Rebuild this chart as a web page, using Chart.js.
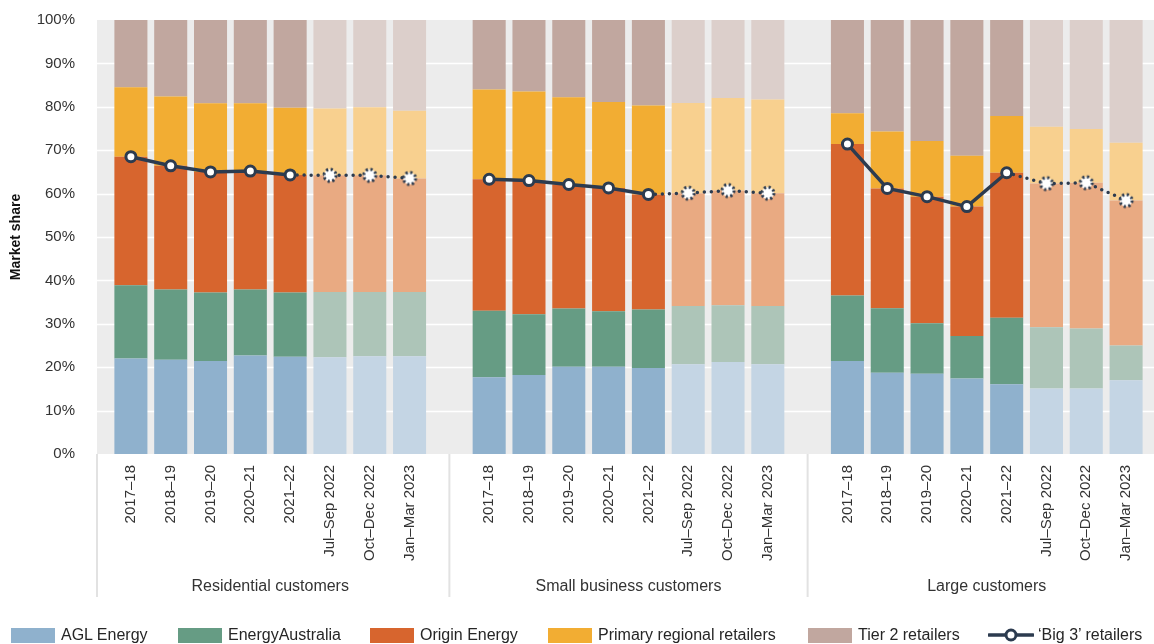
<!DOCTYPE html>
<html>
<head>
<meta charset="utf-8">
<script src="https://cdn.jsdelivr.net/npm/chart.js@4.4.0/dist/chart.umd.min.js"></script>
<style>
  html, body { margin: 0; padding: 0; background: #fff; }
  #wrap { position: relative; width: 1154px; height: 644px; overflow: hidden; font-family: "Liberation Sans", Arial, sans-serif; }
  #legend .item { position: absolute; top: 626px; height: 18px; display: flex; align-items: center; font-size: 16px; color: #262626; white-space: nowrap; }
  #legend .box { width: 44px; height: 15px; margin-right: 6px; }
</style>
</head>
<body>
<div id="wrap">
  <canvas id="chart" width="1154" height="644"></canvas>
  <div id="legend"></div>
</div>
<script>
// categories
const groupNames = ['Residential customers', 'Small business customers', 'Large customers'];
const periods = ['2017–18', '2018–19', '2019–20', '2020–21', '2021–22', 'Jul–Sep 2022', 'Oct–Dec 2022', 'Jan–Mar 2023'];

// market share (%), 8 periods per group: residential, small business, large
const agl       = [22.0, 21.7, 21.4, 22.7, 22.4, 22.3, 22.5, 22.5,  17.7, 18.2, 20.1, 20.1, 19.8, 20.7, 21.2, 20.7,  21.4, 18.7, 18.5, 17.4, 16.1, 15.1, 15.1, 17.0];
const energyAus = [16.9, 16.2, 15.8, 15.2, 14.8, 15.0, 14.8, 14.8,  15.3, 14.0, 13.4, 12.8, 13.5, 13.4, 13.1, 13.4,  15.1, 14.9, 11.6,  9.8, 15.3, 14.1, 13.8,  8.0];
const origin    = [29.6, 28.5, 27.8, 27.3, 27.1, 26.9, 26.9, 26.2,  30.3, 30.8, 28.6, 28.4, 26.5, 26.0, 26.4, 26.0,  34.9, 27.6, 29.2, 29.8, 33.4, 33.1, 33.6, 33.4];
const primary   = [16.0, 16.0, 15.8, 15.6, 15.5, 15.4, 15.7, 15.6,  20.7, 20.5, 20.1, 19.8, 20.5, 20.8, 21.3, 21.6,   7.1, 13.1, 12.8, 11.7, 13.1, 13.1, 12.4, 13.3];
const tier2     = [15.5, 17.6, 19.2, 19.2, 20.2, 20.4, 20.1, 20.9,  16.0, 16.5, 17.8, 18.9, 19.7, 19.1, 18.0, 18.3,  21.5, 25.7, 27.9, 31.3, 22.1, 24.6, 25.1, 28.3];
const big3      = [68.5, 66.4, 65.0, 65.2, 64.3, 64.2, 64.2, 63.5,  63.3, 63.0, 62.1, 61.3, 59.8, 60.1, 60.7, 60.1,  71.4, 61.2, 59.3, 57.0, 64.8, 62.3, 62.5, 58.4];

const yTicks = [0, 10, 20, 30, 40, 50, 60, 70, 80, 90, 100];

// colours: [annual, quarterly (lighter)]
const colAgl = ['#8fb1cd', '#c4d5e4'];
const colEa = ['#669c84', '#adc5b8'];
const colOrigin = ['#d7652e', '#e9aa82'];
const colPrimary = ['#f2ad33', '#f8d08f'];
const colTier2 = ['#c1a79f', '#dccfcb'];
const lineColor = '#2c3b4f';
const FONT = '"Liberation Sans", Arial, sans-serif';

// one empty slot between the groups
const SLOT = periods.length + 1;
const labels = [];
groupNames.forEach((g, gi) => {
  periods.forEach(p => labels.push(p));
  if (gi < groupNames.length - 1) labels.push('');
});
function toSlots(arr) {
  const out = [];
  groupNames.forEach((g, gi) => {
    for (let i = 0; i < periods.length; i++) out.push(arr[gi * periods.length + i]);
    if (gi < groupNames.length - 1) out.push(null);
  });
  return out;
}
const isQuarter = i => (i % SLOT) >= 5;
const shade = pair => ctx => isQuarter(ctx.dataIndex) ? pair[1] : pair[0];

function dottedMarker() {
  const c = document.createElement('canvas');
  c.width = 18; c.height = 18;
  const g = c.getContext('2d');
  g.beginPath(); g.arc(9, 9, 6, 0, Math.PI * 2);
  g.fillStyle = '#fff'; g.fill();
  g.setLineDash([2.2, 2.5]);
  g.lineWidth = 3; g.strokeStyle = lineColor; g.stroke();
  return c;
}
const dotMark = dottedMarker();

function barSet(label, arr, pair) {
  return {
    type: 'bar', label, data: toSlots(arr), backgroundColor: shade(pair),
    stack: 'share', order: 1, borderWidth: 0,
    barPercentage: 0.83, categoryPercentage: 1
  };
}

const bgPlugin = {
  id: 'bg',
  beforeDraw(chart) {
    const { ctx, chartArea: a, scales: { y } } = chart;
    ctx.save();
    ctx.fillStyle = '#ececec';
    ctx.fillRect(a.left - 14, a.top, chart.width - a.left + 14, a.bottom - a.top);
    ctx.strokeStyle = '#ffffff';
    ctx.lineWidth = 1.5;
    yTicks.forEach(t => {
      if (t === 0 || t === 100) return;
      const py = Math.round(y.getPixelForValue(t)) + 0.5;
      ctx.beginPath(); ctx.moveTo(a.left - 14, py); ctx.lineTo(chart.width, py); ctx.stroke();
    });
    ctx.restore();
  },
  afterDraw(chart) {
    const { ctx, chartArea: a, scales: { x } } = chart;
    ctx.save();
    ctx.strokeStyle = '#e2e2e2';
    ctx.lineWidth = 2;
    const seps = [a.left - 14];
    for (let gi = 1; gi < groupNames.length; gi++) seps.push(x.getPixelForValue(gi * SLOT - 1));
    seps.forEach(sx => {
      ctx.beginPath(); ctx.moveTo(sx, a.bottom); ctx.lineTo(sx, 597); ctx.stroke();
    });
    ctx.fillStyle = '#333';
    ctx.font = '16px ' + FONT;
    ctx.textAlign = 'center';
    ctx.textBaseline = 'middle';
    groupNames.forEach((g, gi) => {
      const x0 = x.getPixelForValue(gi * SLOT);
      const x1 = x.getPixelForValue(gi * SLOT + periods.length - 1);
      ctx.fillText(g, (x0 + x1) / 2, 587);
    });
    ctx.restore();
  }
};

new Chart(document.getElementById('chart'), {
  data: {
    labels,
    datasets: [
      {
        type: 'line', label: '‘Big 3’ retailers', data: toSlots(big3), stack: 'big3', order: 0,
        borderColor: lineColor, borderWidth: 3.5, borderCapStyle: 'round', spanGaps: false,
        segment: { borderDash: ctx => isQuarter(ctx.p1DataIndex) ? [0, 7] : undefined },
        pointStyle: ctx => isQuarter(ctx.dataIndex) ? dotMark : 'circle',
        pointRadius: 5, pointBorderWidth: 3, pointBackgroundColor: '#fff', pointBorderColor: lineColor
      },
      barSet('AGL Energy', agl, colAgl),
      barSet('EnergyAustralia', energyAus, colEa),
      barSet('Origin Energy', origin, colOrigin),
      barSet('Primary regional retailers', primary, colPrimary),
      barSet('Tier 2 retailers', tier2, colTier2)
    ]
  },
  options: {
    responsive: false,
    devicePixelRatio: 1,
    animation: false,
    events: [],
    layout: { padding: { left: 0, right: 1, top: 20, bottom: 0 } },
    plugins: { legend: { display: false }, tooltip: { enabled: false } },
    scales: {
      x: {
        stacked: true,
        grid: { display: false },
        border: { display: false },
        ticks: {
          autoSkip: false, maxRotation: 90, minRotation: 90, padding: 3,
          color: '#333', font: { family: FONT, size: 15 }
        },
        afterFit(s) { s.height = 190; }
      },
      y: {
        stacked: true, min: 0, max: 100,
        grid: { display: false },
        border: { display: false },
        ticks: {
          stepSize: 10, padding: 28, color: '#333',
          font: { family: FONT, size: 15 },
          callback: v => v + '%'
        },
        title: {
          display: true, text: 'Market share', color: '#111',
          font: { family: FONT, size: 14, weight: 'bold' }, padding: { top: 8, bottom: 0 }
        },
        afterFit(s) { s.width = 111; s.paddingTop = 0; s.paddingBottom = 0; }
      }
    }
  },
  plugins: [bgPlugin]
});

// legend
const legendItems = [
  { text: 'AGL Energy', color: colAgl[0], left: 11 },
  { text: 'EnergyAustralia', color: colEa[0], left: 178 },
  { text: 'Origin Energy', color: colOrigin[0], left: 370 },
  { text: 'Primary regional retailers', color: colPrimary[0], left: 548 },
  { text: 'Tier 2 retailers', color: colTier2[0], left: 808 },
  { text: '‘Big 3’ retailers', line: true, left: 988 }
];
const legend = document.getElementById('legend');
legendItems.forEach(it => {
  const d = document.createElement('div');
  d.className = 'item';
  d.style.left = it.left + 'px';
  if (it.line) {
    d.innerHTML = '<svg width="46" height="16" style="margin-right:4px"><line x1="1" y1="8" x2="45" y2="8" stroke="' + lineColor +
      '" stroke-width="3.5" stroke-linecap="round"/><circle cx="23" cy="8" r="5" fill="#fff" stroke="' + lineColor + '" stroke-width="3"/></svg>';
  } else {
    d.innerHTML = '<span class="box" style="background:' + it.color + '"></span>';
  }
  const t = document.createElement('span');
  t.textContent = it.text;
  d.appendChild(t);
  legend.appendChild(d);
});
</script>
</body>
</html>
